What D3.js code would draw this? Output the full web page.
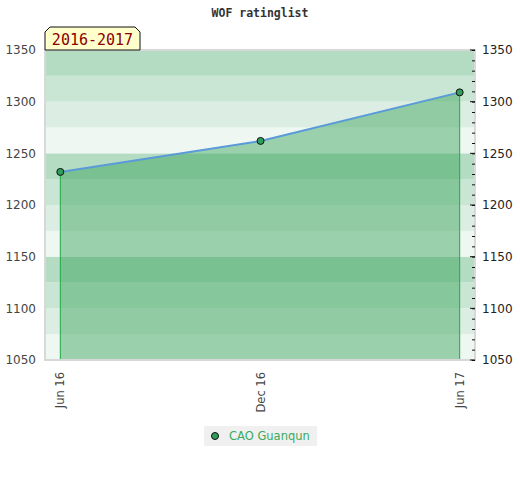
<!DOCTYPE html>
<html><head><meta charset="utf-8">
<script src="https://cdn.jsdelivr.net/npm/d3@7"></script>
<style>body{margin:0;background:#fff}</style>
</head><body>
<svg id="c" width="520" height="480"></svg>
<script>
const dates = ["2016-06-01","2016-12-01","2017-06-01"];
const ratings = [1232, 1262, 1309];
const tickDates = ["2016-06-01","2016-12-01","2017-06-01"];
const tickLabels = ["Jun 16","Dec 16","Jun 17"];
const yTicks = [1050,1100,1150,1200,1250,1300,1350];
const bandColors = ["#eef7f2","#dceee3","#c9e6d4","#b3dcc3"];
const seriesName = "CAO Guanqun";
const title = "WOF ratinglist";
const seasonLabel = "2016-2017";

const parse = d3.utcParse("%Y-%m-%d");
const data = dates.map((d,i)=>({date:parse(d), v:ratings[i]}));
const svg = d3.select("#c");
const L=45,R=475,T=50,B=360;
const x = d3.scaleUtc().domain([d3.utcDay.offset(parse("2016-06-01"),-13.7), d3.utcDay.offset(parse("2017-06-01"),14.6)]).range([L,R]);
const y = d3.scaleLinear().domain([1050,1350]).range([B,T]);

// bands
const bands = d3.range(1050,1350,25);
svg.append("g").selectAll("rect").data(bands).join("rect")
  .attr("x",L).attr("width",R-L)
  .attr("y",d=>y(d+25)).attr("height",d=>y(d)-y(d+25))
  .attr("fill",(d,i)=>bandColors[i%4]);

// area
const area = d3.area().x(d=>x(d.date)).y0(y(1050)).y1(d=>y(d.v));
svg.append("path").datum(data).attr("d",area).attr("fill","rgb(47,160,82)").attr("fill-opacity",0.44);

// vertical drops
svg.append("g").selectAll("line").data([data[0],data[data.length-1]]).join("line")
  .attr("x1",d=>x(d.date)).attr("x2",d=>x(d.date)).attr("y1",d=>y(d.v)).attr("y2",B)
  .attr("stroke","#22aa44").attr("stroke-width",1);

// frame
svg.append("rect").attr("x",L).attr("y",T).attr("width",R-L).attr("height",B-T)
  .attr("fill","none").attr("stroke","#d8d8d8").attr("stroke-width",2);

// line
svg.append("path").datum(data).attr("d",d3.line().x(d=>x(d.date)).y(d=>y(d.v)))
  .attr("fill","none").attr("stroke","#5a9ad8").attr("stroke-width",2);

// points
svg.append("g").selectAll("circle").data(data).join("circle")
  .attr("cx",d=>x(d.date)).attr("cy",d=>y(d.v)).attr("r",3.5)
  .attr("fill","#2e9e5b").attr("stroke","#111").attr("stroke-width",1);

// left axis labels
const fontSans = "DejaVu Sans, sans-serif";
svg.append("g").selectAll("text").data(yTicks).join("text")
  .attr("x",36).attr("y",d=>y(d)).attr("dy","0.35em").attr("text-anchor","end")
  .attr("font-family",fontSans).attr("font-size",12).attr("fill","#444").text(d=>d);

// right axis: minor ticks inside
const ra = d3.axisLeft(y).ticks(30).tickSize(3).tickFormat("");
const rg = svg.append("g").attr("transform",`translate(${R},0)`).call(ra);
rg.select(".domain").remove();
rg.selectAll("line").attr("stroke","#111");
svg.append("g").selectAll("line").data(yTicks).join("line")
  .attr("x1",R-5).attr("x2",R).attr("y1",d=>y(d)).attr("y2",d=>y(d)).attr("stroke","#111");
svg.append("g").selectAll("text").data(yTicks).join("text")
  .attr("x",482).attr("y",d=>y(d)).attr("dy","0.35em").attr("text-anchor","start")
  .attr("font-family",fontSans).attr("font-size",12).attr("fill","#222").text(d=>d);

// x labels
svg.append("g").selectAll("text").data(tickDates).join("text")
  .attr("transform",d=>`translate(${x(parse(d))},372) rotate(-90)`)
  .attr("dy","0.35em").attr("text-anchor","end")
  .attr("font-family",fontSans).attr("font-size",11.5).attr("fill","#444")
  .text((d,i)=>tickLabels[i]);

// title
svg.append("text").attr("x",260).attr("y",17).attr("text-anchor","middle")
  .attr("font-family","DejaVu Sans Mono, monospace").attr("font-weight","bold").attr("font-size",11.5)
  .attr("fill","#333").text(title);

// season label box
const bx0=L, bx1=140, by0=27, by1=T;
svg.append("path").attr("d",`M${bx0},${by1}L${bx0},${by0+5}L${bx0+5},${by0}L${bx1-5},${by0}L${bx1},${by0+5}L${bx1},${by1}Z`)
  .attr("fill","#ffffcc").attr("stroke","#111").attr("stroke-width",1);
svg.append("text").attr("x",(bx0+bx1)/2).attr("y",45).attr("text-anchor","middle")
  .attr("font-family","DejaVu Sans Mono, monospace").attr("font-size",15)
  .attr("fill","#8b0000").text(seasonLabel);

// legend
const lg = svg.append("g");
lg.append("rect").attr("x",204).attr("y",426).attr("width",113).attr("height",20).attr("fill","#f0f0f0");
lg.append("circle").attr("cx",215).attr("cy",436).attr("r",3.5).attr("fill","#2e9e5b").attr("stroke","#111");
lg.append("text").attr("x",229).attr("y",436).attr("dy","0.35em").attr("font-family",fontSans)
  .attr("font-size",11.5).attr("fill","#3aaa5f").text(seriesName);
</script>
</body></html>
